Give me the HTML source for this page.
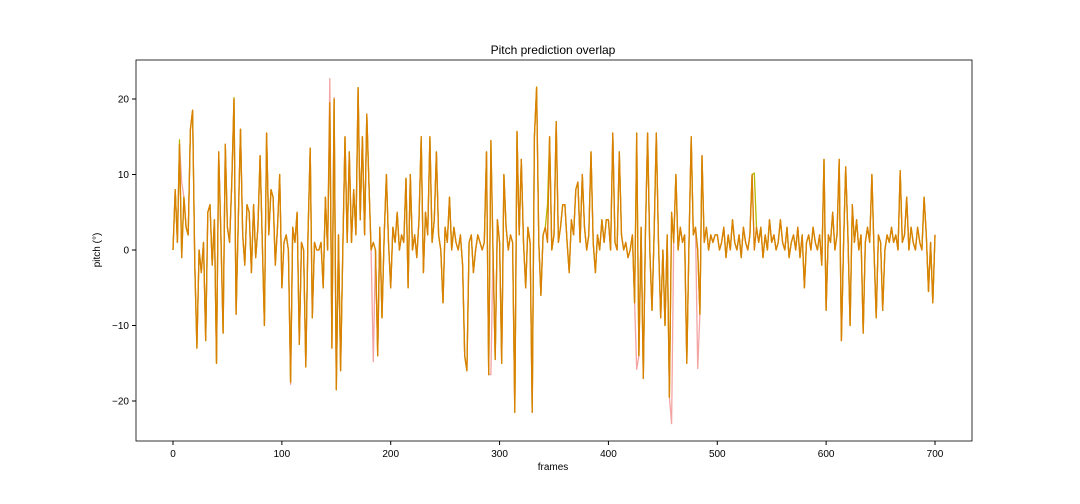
<!DOCTYPE html>
<html><head><meta charset="utf-8">
<style>
html,body{margin:0;padding:0;background:#fff;}
svg{display:block;font-family:"Liberation Sans","DejaVu Sans",sans-serif;}
</style></head>
<body>
<svg id="chart" width="1080" height="504" viewBox="0 0 1080 504">
<text x="553" y="54" text-anchor="middle" font-size="12">Pitch prediction overlap</text>
<g id="marks"></g>
<rect x="136" y="60" width="836" height="381" fill="none" stroke="#000" stroke-width="0.8"/>
<g id="axes"></g>
<text x="553" y="470" text-anchor="middle" font-size="10">frames</text>
<text x="100" y="250" text-anchor="middle" font-size="10" transform="rotate(-90 100 250)">pitch (°)</text>
</svg>
<script>
const xTicks=[0,100,200,300,400,500,600,700];
const yTicks=[-20,-10,0,10,20];
const frameStep=2;
const predicted=[
0,8,1,14,-1,7,3,2,16,18.5,
-2,-13,0,-3,1,-12,5,6,-2,4,
-15,13,2,-11,14,3,1,9,20,-8.5,
4,16,2,-2,6,5,-3,6,-1,3,
12.5,1,-10,15.5,2,8,7,-2,3,10,
-5,1,2,0,-17.5,3,1,5,-12.5,1,
0,-15.5,2,13.5,-9,1,0,0,1,-5,
7,0,19.5,-13,20,-18.5,2,-16,0,15,
1,13,1,8,2,21.5,4,15,2,18,
9,0,1,0,-14,3,-9,2,10,1,
-5,3,1,5,0,2,1,9.5,-5,10,
0,2,-1,4,15,-3,5,2,15,1,
4,13,2,0,-7,3,1,7,0,3,
1,0,2,-2,-14,-16,1,2,-3,0,
2,1,0,1,13,-16.5,14.5,0,-14.5,4,
1,-15,10,3,0,2,1,-21.5,15.7,2,
12,1,-5,3,1,-21.5,15,21.5,1,-6,
2,3,1,15,0,2,17,1,3,6,
6,1,-3,4,2,8,9,1,10,3,
0,2,13,1,-3,2,0,4,1,4,
4,0,15.5,1,0,13,2,0,1,-1,
0,2,-7,15.5,-14,3,-17,2,15.5,0,
-8,2,15.5,1,-9,0,-10,2,-19.5,5,
1,10,0,3,1,2,-15,1,15,2,
3,0,-8.5,12.5,1,3,0,2,1,2,
2,0,1,3,-1,2,0,4,1,0,
2,-1,3,1,0,2,10,0,3,1,
3,-1,2,0,4,1,2,0,1,4,
1,0,3,-1,1,2,0,3,-1,2,
-5,1,2,0,3,1,0,2,-2,12,
-8,2,1,5,0,2,12,-12,1,11,
2,-10,6,1,4,0,2,-11,1,3,
1,10,0,-9,2,1,-8,0,2,1,
3,1,2,0,10.5,1,2,7,0,3,
1,0,3,1,0,7,2,-5.5,1,-7,
2];
const truthIdx=[72,74,229,4,54,92,146,213,241];
const truthVal=[22.7,20.2,-23,9,-17.8,-14.8,-16.5,-15.8,-15.7];
const olivIdx=[3,28,167,267,172,176];
const olivVal=[14.6,20.2,21.6,10.2,6,17];
const X0=173,XS=(935-173)/700,Y0=250,YS=(250-99)/20;
const xs=f=>X0+f*XS, ys=v=>Y0-v*YS;
const NS="http://www.w3.org/2000/svg";
function series(idx,vals){const a=predicted.slice();idx.forEach((k,i)=>{a[k]=vals[i];});return a;}
function path(arr,color,name){
  const p=document.createElementNS(NS,"path");
  
  
  p.setAttribute("d",arr.map((v,i)=>(i?"L":"M")+xs(i*frameStep).toFixed(1)+" "+ys(v).toFixed(1)).join(""));
  p.setAttribute("fill","none");p.setAttribute("stroke",color);p.setAttribute("stroke-width","1.3");
  p.setAttribute("stroke-linejoin","round");
  document.getElementById("marks").appendChild(p);
}
path(series(truthIdx,truthVal),"#f4a3a3","truth-line");
path(series(olivIdx,olivVal),"#b8b800","model-a-line");
path(predicted,"#d98000","model-b-line");
const ax=document.getElementById("axes");
xTicks.forEach(t=>{
  const l=document.createElementNS(NS,"line");
  
  
  l.setAttribute("x1",xs(t));l.setAttribute("x2",xs(t));l.setAttribute("y1",441);l.setAttribute("y2",445);l.setAttribute("stroke","#000");ax.appendChild(l);
  const tx=document.createElementNS(NS,"text");
  
  
  tx.setAttribute("x",xs(t));tx.setAttribute("y",457);tx.setAttribute("text-anchor","middle");tx.setAttribute("font-size","10");tx.textContent=t;ax.appendChild(tx);
});
yTicks.forEach(t=>{
  const l=document.createElementNS(NS,"line");
  
  
  l.setAttribute("x1",132);l.setAttribute("x2",136);l.setAttribute("y1",ys(t));l.setAttribute("y2",ys(t));l.setAttribute("stroke","#000");ax.appendChild(l);
  const tx=document.createElementNS(NS,"text");
  
  
  tx.setAttribute("x",129);tx.setAttribute("y",ys(t)+3.5);tx.setAttribute("text-anchor","end");tx.setAttribute("font-size","10");tx.textContent=(t<0?"\u2212"+(-t):t);ax.appendChild(tx);
});
</script>
</body></html>
